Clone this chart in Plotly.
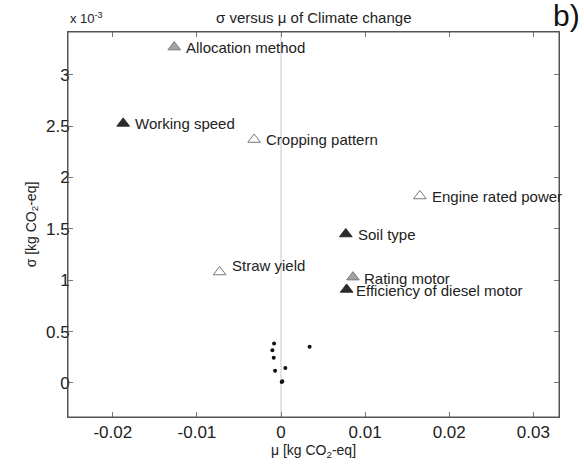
import plotly.graph_objects as go

# ---- data ----
labels = ["Allocation method", "Working speed", "Cropping pattern", "Engine rated power",
          "Soil type", "Straw yield", "Rating motor", "Efficiency of diesel motor"]
mu = [-0.0127, -0.01877, -0.0032, 0.0165, 0.0077, -0.0073, 0.00855, 0.0078]
sigma = [3.27e-3, 2.527e-3, 2.37e-3, 1.82e-3, 1.45e-3, 1.08e-3, 1.03e-3, 0.91e-3]
kind = ["gray", "dark", "open", "open", "dark", "open", "gray", "dark"]

dot_mu = [-0.00083, -0.00103, -0.00087, -0.00071, 0.00051, 0.00008, 0.00015, 0.0034]
dot_sigma = [0.384e-3, 0.319e-3, 0.245e-3, 0.119e-3, 0.145e-3, 0.010e-3, 0.016e-3, 0.351e-3]

x_ticks = [-0.02, -0.01, 0, 0.01, 0.02, 0.03]
x_ticktext = ["-0.02", "-0.01", "0", "0.01", "0.02", "0.03"]
y_ticks = [0, 0.5e-3, 1e-3, 1.5e-3, 2e-3, 2.5e-3, 3e-3]
y_ticktext = ["0", "0.5", "1", "1.5", "2", "2.5", "3"]

# ---- styles ----
fills = {"gray": "#a3a3a3", "dark": "#2b2b2b", "open": "#ffffff"}
lines = {"gray": "#7a7a7a", "dark": "#2b2b2b", "open": "#777777"}
label_shift = {"Straw yield": (10, 7), "Rating motor": (9, -1), "Efficiency of diesel motor": (7, -1)}

FONT = "Liberation Sans, Arial, sans-serif"
TXT = "#222222"

fig = go.Figure()

# zero reference line
fig.add_shape(type="line", x0=0, x1=0, y0=0, y1=1, xref="x", yref="paper",
              line=dict(color="#c8c8c8", width=1), layer="below")
# frame
fig.add_shape(type="rect", x0=0, x1=1, y0=0, y1=1, xref="paper", yref="paper",
              line=dict(color="#555555", width=1), layer="above")

fig.add_trace(go.Scatter(
    x=mu, y=sigma, mode="markers",
    marker=dict(symbol="triangle-up", size=11,
                color=[fills[k] for k in kind],
                line=dict(color=[lines[k] for k in kind], width=1)),
    hoverinfo="text", text=labels, showlegend=False, cliponaxis=False))

fig.add_trace(go.Scatter(
    x=dot_mu, y=dot_sigma, mode="markers",
    marker=dict(symbol="circle", size=4, color="#111111"),
    showlegend=False))

annotations = []
for lab, xv, yv in zip(labels, mu, sigma):
    dx, dy = label_shift.get(lab, (10, 0))
    annotations.append(dict(x=xv, y=yv, text=lab, showarrow=False, xanchor="left",
                            yanchor="middle", xshift=dx, yshift=dy,
                            font=dict(family=FONT, size=15, color=TXT)))

annotations += [
    dict(text="σ versus μ of Climate change", xref="paper", yref="paper",
         x=0.5, y=1, yshift=15, xanchor="center", yanchor="middle", showarrow=False,
         font=dict(family=FONT, size=15, color=TXT)),
    dict(text="x 10<sup>-3</sup>", xref="paper", yref="paper",
         x=0, y=1, xshift=0, yshift=14, xanchor="left", yanchor="middle", showarrow=False,
         font=dict(family=FONT, size=13, color=TXT)),
    dict(text="b)", xref="paper", yref="paper",
         x=1, y=1, xshift=-8, yshift=17, xanchor="left", yanchor="middle", showarrow=False,
         font=dict(family=FONT, size=30, color="#111111")),
]

axis_common = dict(showgrid=False, zeroline=False, showline=True, linecolor="#555555",
                   linewidth=1, mirror="allticks", ticks="inside", ticklen=5,
                   tickcolor="#777777", tickfont=dict(family=FONT, size=17, color=TXT))

fig.update_xaxes(range=[-0.02533, 0.03305], tickvals=x_ticks, ticktext=x_ticktext,
                 title=dict(text="μ [kg CO<sub>2</sub>-eq]", font=dict(family=FONT, size=14, color=TXT),
                            standoff=2),
                 **axis_common)
fig.update_yaxes(range=[-0.332e-3, 3.417e-3], tickvals=y_ticks, ticktext=y_ticktext,
                 ticklabelstandoff=-6,
                 title=dict(text="σ [kg CO<sub>2</sub>-eq]", font=dict(family=FONT, size=14, color=TXT),
                            standoff=6),
                 **axis_common)

fig.update_layout(
    width=584, height=466,
    margin=dict(l=68, r=25, t=32, b=45),
    paper_bgcolor="white", plot_bgcolor="white",
    font=dict(family=FONT, color=TXT),
    annotations=annotations,
)

# remove the page's default 8px body margin so the figure fills the window exactly
fig.write_html("out.html", config={"displayModeBar": False},
               post_script="document.body.style.margin='0';document.body.style.overflow='hidden';")
